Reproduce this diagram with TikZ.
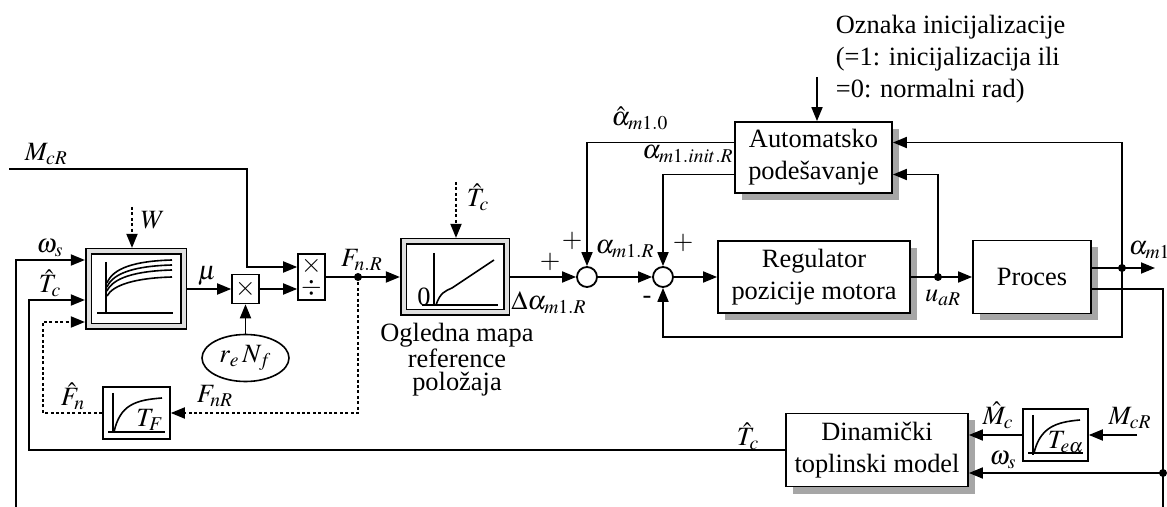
\documentclass[tikz,border=0pt]{standalone}
\usepackage{mathptmx}
\usepackage[no-math]{fontspec}
\setmainfont{Liberation Serif}
\usetikzlibrary{arrows.meta,calc,shadows,shapes.geometric}

\tikzset{
  arr/.style={-{Triangle[length=7pt,width=5.5pt]}},
  blok/.style={draw, fill=white, line width=0.9pt, align=center, inner sep=0pt,
    drop shadow={shadow xshift=3.5pt, shadow yshift=-3.5pt, fill=gray!70, opacity=1}},
  mapa/.style={draw, line width=0.8pt, double=gray!25, double distance=2pt, inner sep=0pt, outer sep=1.8pt},
  malibox/.style={draw, line width=0.8pt, inner sep=0pt},
  zbroj/.style={draw, circle, line width=0.9pt, fill=white, minimum size=10pt, inner sep=0pt},
  tocka/.style={circle, fill, inner sep=0pt, minimum size=4pt},
  isp/.style={dash pattern=on 1.5pt off 1.2pt},
  lbl/.style={inner sep=0pt},
}

\begin{document}
\begin{tikzpicture}[x=0.5pt, y=-0.5pt, line width=0.9pt, font=\fontsize{13.2}{16}\selectfont]
        \useasboundingbox (0,0) rectangle (1167,507);
        % \draw[help lines, gray!30, very thin] (0,0) grid[step=50] (1167,507);

        % blokovi
        \node[mapa, minimum width=47.5pt, minimum height=37.5pt] (map1) at (136,289) {};
        \node[mapa, minimum width=51.5pt, minimum height=35.5pt] (map2) at (455,277) {};
        \node[malibox, minimum width=13.5pt, minimum height=14.5pt] (mul) at (245.5,289) {$\times$};
        \node[malibox, minimum width=13.5pt, minimum height=23pt] (div) at (311.5,277) {};
        \node[lbl] (div-x) at ($(div.center)+(0,-11)$) {$\times$};
        \node[lbl] (div-d) at ($(div.center)+(0,11)$) {$\div$};
        \node[draw, ellipse, line width=0.8pt, minimum width=43.5pt, minimum height=23.5pt, inner sep=0pt] (ell) at (245.5,358) {$r_e\,N_f$};
        \node[malibox, minimum width=33.5pt, minimum height=26pt] (tf) at (136.5,413) {};
        \node[malibox, minimum width=32.5pt, minimum height=26pt] (tea) at (1055.5,435) {};
        \node[zbroj] (sum1) at (587,277) {};
        \node[zbroj] (sum2) at (663,277) {};
        \node[blok, minimum width=78.5pt, minimum height=35.5pt] (auto) at (813.5,157.5) {Automatsko\\podešavanje};
        \node[blok, minimum width=96pt, minimum height=36pt] (reg) at (814,277) {Regulator\\pozicije motora};
        \node[blok, minimum width=59pt, minimum height=36.5pt] (proc) at (1032,277) {Proces};
        \node[blok, minimum width=91pt, minimum height=36.5pt] (dyn) at (877,450) {Dinamički\\toplinski model};

        % krivulje u blokovima
        \draw[line width=0.8pt] (106,262) -- (106,313) (97,313) -- (173,313);
        \foreach \ys/\ye in {283/260, 287/265, 291/270, 296/277}
          \draw[line width=0.8pt] (107,\ys) .. controls (113,\ye+8) and (135,\ye+1) .. (172,\ye);
        \draw[line width=0.8pt] (434,253) -- (434,305) (422,305) -- (498,305);
        \draw[line width=0.8pt] (436,305) .. controls (440,293) and (445,291) .. (452,288) -- (494,260);
        \node[lbl] (nula) at (424,297) {0};
        \draw[line width=0.8pt] (113,393) -- (113,432) (108,432) -- (165,432);
        \draw[line width=0.8pt] (114,432) .. controls (120,405) and (135,400) .. (162,398);
        \node[lbl] (l-tf) at (150,420) {$T_F$};
        \draw[line width=0.8pt] (1033,415) -- (1033,455) (1028,453) -- (1083,453);
        \draw[line width=0.8pt] (1034,453) .. controls (1040,428) and (1055,422) .. (1080,420);
        \node[lbl] (l-tea) at (1066,442) {$T_{e\alpha}$};

        % lijevi dio
        \coordinate (ws0) at (16,507);
        \draw[arr] (ws0) |- ($(map1.west)+(0,-29)$);
        \coordinate (tcx) at (29,450);
        \draw[arr] (dyn.west) -- (tcx) |- ($(map1.west)+(0,11)$);
        \coordinate (fnx) at (43,413);
        \draw[isp, arr] (tf.west) -- (fnx) |- ($(map1.west)+(0,33)$);
        \coordinate (w0) at (132,207);
        \draw[isp, arr] (w0) -- (w0 |- map1.north);
        \draw[arr] (map1.east) -- (mul.west);
        \draw[arr] (ell.north) -- (mul.south);
        \draw[arr] (mul.east) -- (mul.east -| div.west);
        \coordinate (mc0) at (9,169);
        \coordinate (mck) at (247,267);
        \draw[arr] (mc0) -| (mck) -- (mck -| div.west);
        \coordinate (jf) at (358,277);
        \draw[arr] (div.east) -- (map2.west);
        \node[tocka] (jf-dot) at (jf) {};
        \draw[isp, arr] (jf) |- (tf.east);
        \coordinate (tc0) at (456,182);
        \draw[isp, arr] (tc0) -- (tc0 |- map2.north);

        % glavna petlja
        \draw[arr] (map2.east) -- (sum1.west);
        \draw[arr] (sum1.east) -- (sum2.west);
        \draw[arr] (sum2.east) -- (reg.west);
        \draw[arr] ($(auto.west)+(0,-15)$) -| (sum1.north);
        \draw[arr] ($(auto.west)+(0,17)$) -| (sum2.north);
        \coordinate (ju) at (938,277);
        \draw (reg.east) -- (ju);
        \draw[arr] (ju) -- (proc.west);
        \node[tocka] (ju-dot) at (ju) {};
        \draw[arr] (ju) |- ($(auto.east)+(0,17)$);
        \coordinate (init) at (817,77);
        \draw[arr] (init) -- (init |- auto.north);
        \coordinate (ja) at (1122,268);
        \coordinate (aout) at (1155,268);
        \draw[arr] (ja -| proc.east) -- (aout);
        \node[tocka] (ja-dot) at (ja) {};
        \draw[arr] (ja) |- ($(auto.east)+(0,-15)$);
        \coordinate (fb) at (1122,337);
        \draw[arr] (ja) -- (fb) -| (sum2.south);

        % toplinski model
        \coordinate (jw) at (1163,473);
        \coordinate (pd) at (1163,507);
        \draw ($(proc.east)+(0,12)$) -| (pd);
        \node[tocka] (jw-dot) at (jw) {};
        \draw[arr] (jw) -- (jw -| dyn.east);
        \draw[arr] (tea.west) -- (tea.west -| dyn.east);
        \coordinate (mc1) at (1137,435);
        \draw[arr] (mc1) -- (tea.east);

        % oznake
        \node[anchor=north west, align=left, lbl] (oznaka) at (835,14) {Oznaka inicijalizacije\\(=1: inicijalizacija ili\\=0: normalni rad)};
        \node[lbl] (l-a0) at (640,118) {$\hat{\alpha}_{m1.0}$};
        \node[lbl] (l-ainit) at (688,154) {$\alpha_{m1.init.R}$};
        \node[lbl] (p1) at (550,262) {$+$};
        \node[lbl] (p2) at (572,241) {$+$};
        \node[lbl] (l-aR) at (625,249) {$\alpha_{m1.R}$};
        \node[lbl] (p3) at (683,243) {$+$};
        \node[lbl] (m1) at (647,300) {-};
        \node[lbl] (l-da) at (549,303) {$\Delta\alpha_{m1.R}$};
        \node[lbl] (l-ua) at (943,298) {$u_{aR}$};
        \node[anchor=west, lbl] (l-am) at (1128,250) {$\alpha_{m1}$};
        \node[lbl] (l-tc3) at (748,436) {$\hat{T}_c$};
        \node[lbl] (l-mc) at (998,415) {$\hat{M}_c$};
        \node[lbl] (l-ws2) at (1003,460) {$\omega_s$};
        \node[lbl] (l-mcr2) at (1130,418) {$M_{cR}$};
        \node[lbl] (l-fn) at (73,396) {$\hat{F}_n$};
        \node[lbl] (l-fnr) at (215,396) {$F_{nR}$};
        \node[lbl] (l-fnR) at (362,260) {$F_{n.R}$};
        \node[lbl] (l-tc2) at (478,197) {$\hat{T}_c$};
        \node[lbl] (l-mu) at (207,276) {$\mu$};
        \node[lbl] (l-w) at (153,220) {$W$};
        \node[lbl] (l-ws) at (50,248) {$\omega_s$};
        \node[lbl] (l-tc) at (50,283) {$\hat{T}_c$};
        \node[anchor=south west, lbl] (l-mcr) at (24,166) {$M_{cR}$};
        \node[align=center, lbl, font=\fontsize{13.2}{11.5}\selectfont] (l-map) at (457,360) {Ogledna mapa\\reference\\položaja};
      \end{tikzpicture}
\end{document}
